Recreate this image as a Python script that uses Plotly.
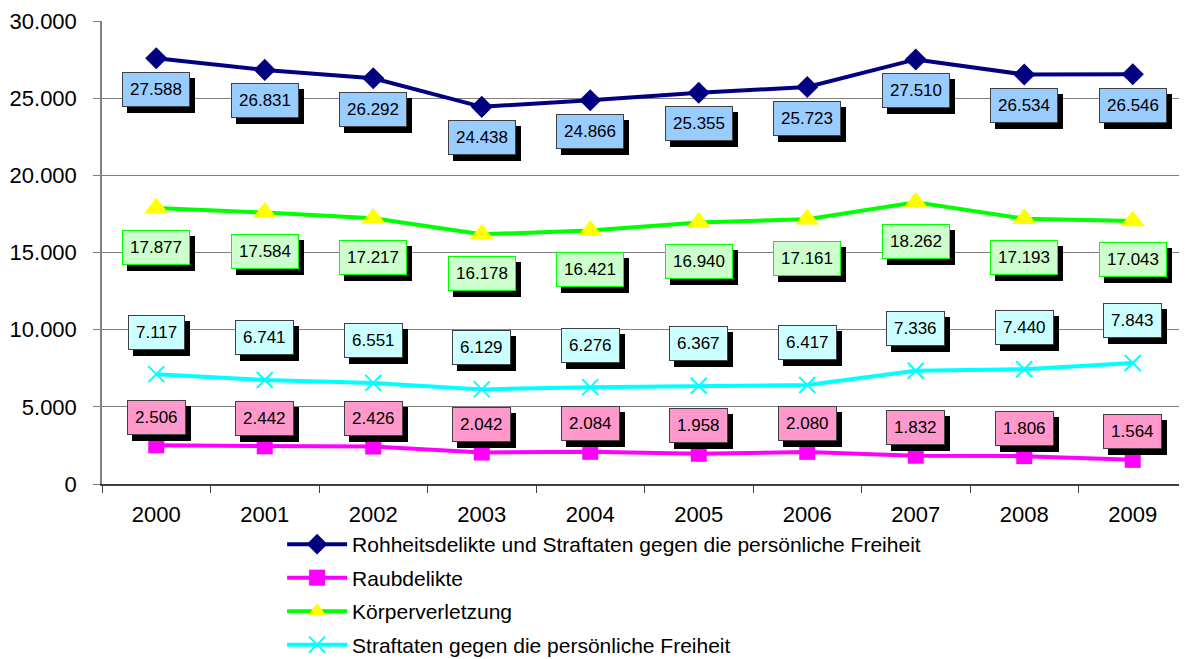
import plotly.graph_objects as go

years = ['2000', '2001', '2002', '2003', '2004', '2005', '2006', '2007', '2008', '2009']
rohheit = [27588, 26831, 26292, 24438, 24866, 25355, 25723, 27510, 26534, 26546]
raub = [2506, 2442, 2426, 2042, 2084, 1958, 2080, 1832, 1806, 1564]
koerper = [17877, 17584, 17217, 16178, 16421, 16940, 17161, 18262, 17193, 17043]
freiheit = [7117, 6741, 6551, 6129, 6276, 6367, 6417, 7336, 7440, 7843]

FONT = 'Liberation Sans, Arial, sans-serif'


def fmt(v):
    return f"{v:,}".replace(',', '.')


fig = go.Figure()

series = [
    dict(name='Rohheitsdelikte und Straftaten gegen die persönliche Freiheit', values=rohheit,
         line='#000080', marker=dict(symbol='diamond', size=17, color='#000080'),
         box='#99CCFF', border='#404040', shift=-31),
    dict(name='Raubdelikte', values=raub,
         line='#FF00FF', marker=dict(symbol='square', size=16, color='#FF00FF'),
         box='#FF99CC', border='#404040', shift=28),
    dict(name='Körperverletzung', values=koerper,
         line='#00FF00', marker=dict(symbol='triangle-up', size=21, color='#FFFF00'),
         box='#CCFFCC', border='#00FF00', shift=-39),
    dict(name='Straftaten gegen die persönliche Freiheit', values=freiheit,
         line='#00FFFF', marker=dict(symbol='x-thin', size=16, color='#00FFFF',
                                     line=dict(color='#00FFFF', width=2)),
         box='#CCFFFF', border='#404040', shift=42),
]

for k, s in enumerate(series):
    fig.add_trace(go.Scatter(
        x=years, y=s['values'], mode='lines+markers', name=s['name'],
        legendgroup=f'g{k}',
        line=dict(color=s['line'], width=4),
        marker=s['marker'],
    ))

# Datenbeschriftungen mit Schatten (x = Kategorie-Index)
for s in series:
    for i, v in enumerate(s['values']):
        common = dict(x=i, y=v, xref='x', yref='y', text=fmt(v), showarrow=False,
                      borderpad=7, borderwidth=1)
        fig.add_annotation(**common, xshift=5, yshift=s['shift'] - 6,
                           bgcolor='black', bordercolor='black',
                           font=dict(family=FONT, size=17, color='black'))
        fig.add_annotation(**common, yshift=s['shift'],
                           bgcolor=s['box'], bordercolor=s['border'],
                           font=dict(family=FONT, size=17, color='black'))

# Seite hat 8px Rand; Figur unten etwas höher, damit die Legende nicht den Rand verschiebt
fig.update_layout(
    width=1179, height=690,
    margin=dict(l=94, r=0, t=13, b=214),
    paper_bgcolor='white', plot_bgcolor='white',
    separators=',.',
    font=dict(family=FONT, size=21, color='black'),
    showlegend=True,
    legend=dict(x=0.166, y=-0.0864, xanchor='left', yanchor='top',
                font=dict(family=FONT, size=21), itemwidth=60,
                tracegroupgap=3.2, bgcolor='rgba(0,0,0,0)'),
    xaxis=dict(type='category', range=[-0.5, 9.5], showgrid=False, showline=True,
               linecolor='#404040', linewidth=1.5, ticks='outside', tickson='boundaries',
               ticklen=7, tickcolor='#404040', ticklabelstandoff=10,
               tickfont=dict(size=22)),
    yaxis=dict(range=[0, 30000], dtick=5000, tickformat=',d', showgrid=True,
               gridcolor='#808080', gridwidth=1, showline=True, linecolor='#808080',
               linewidth=1.5, ticks='outside', ticklen=7, tickcolor='#808080',
               ticklabelstandoff=12, tickfont=dict(size=22), zeroline=False),
)

fig.write_html("out.html")
